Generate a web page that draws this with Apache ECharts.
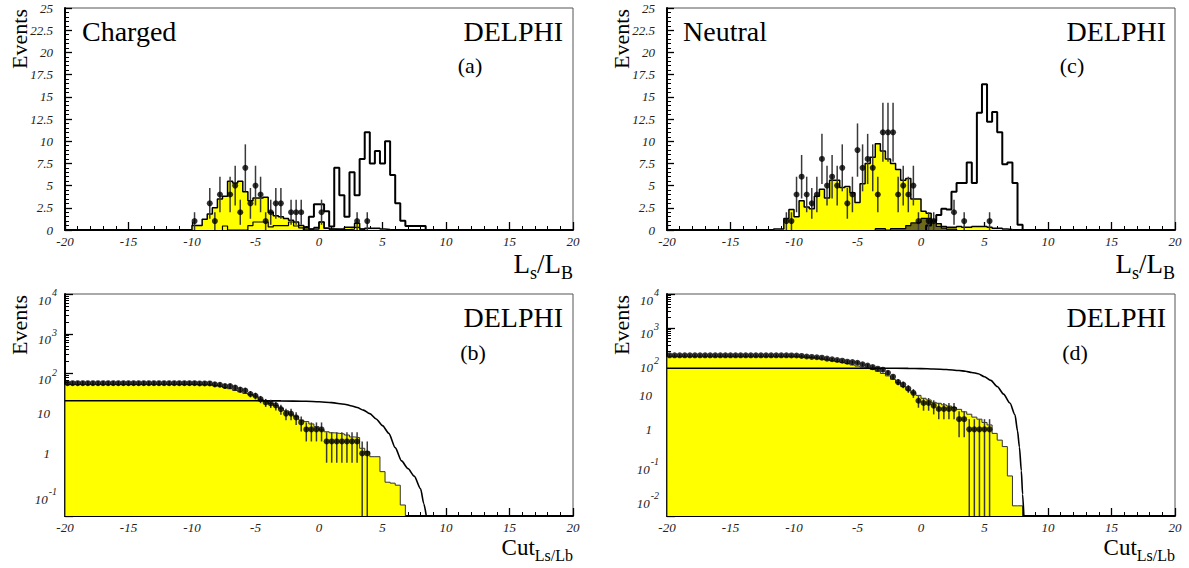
<!DOCTYPE html>
<html><head><meta charset="utf-8">
<script src="https://cdn.jsdelivr.net/npm/echarts@6/dist/echarts.min.js"></script>
<style>html,body{margin:0;padding:0;background:#fff}#c{width:1189px;height:568px}</style>
</head><body><div id="c"></div>
<script>
// ================= DATA =================
const binWidth = 0.4;

// ---- (a) Charged : L_s/L_B distribution ----
const aYellowStart = -10.0;   // left edge of first bin
const aYellow = [0.5, 0.5, 1.2, 1.8, 2.5, 3.5, 3.8, 5.5, 5.3, 5.5, 4.3, 3.3, 3.6, 3.6, 3.7, 2.0, 1.6, 1.5, 1.3, 1.1,
                 0.9, 0.5, 0.3, 0.1, 0.1, 0.9, 0.2, 0.1, 0.1, 0.1, 0.3, 0.3, 0.75, 0.1, 0.2, 0.2, 0.2, 0.1, 0.05];
const aInnerStart = -7.6;
const aInner = [0.45, 0, 0, 0, 0, 0.5, 0.9, 0.9, 0.9, 0.35, 0.5, 0.5, 0.5, 0.9, 0.45, 0.25, 0.1, 0.1, 0.3, 0.9,
                0.2, 0.1, 0.05, 0.05, 0.05, 0.1, 0.3, 0.1];
const aSignalStart = -1.2;
const aSignal = [0.3, 1.5, 2.9, 2.9, 2.1, 0.4, 7.0, 3.9, 1.5, 6.5, 3.9, 8.0, 11.0, 7.5, 8.9, 7.5, 10.0, 6.2, 3.0, 1.05,
                 0.45, 0.45, 0.45, 0.45];
const aDataX = [-9.8, -8.6, -8.2, -7.8, -7.0, -6.6, -6.2, -5.8, -5.4, -5.0, -4.6, -4.2, -3.8, -3.4, -3.0, -2.2, -1.8, -1.4, 0.2, 3.0, 3.8];
const aDataN = [1, 3, 1, 4, 4, 5, 2, 7, 3, 5, 4, 1, 2, 3, 3, 2, 2, 2, 2, 1, 1];

// ---- (c) Neutral : L_s/L_B distribution ----
const cYellowStart = -11.6;
const cYellow = [0.1, 0.1, 1.3, 2.3, 1.5, 3.3, 2.6, 2.4, 3.8, 4.6, 3.6, 5.6, 5.6, 4.8, 4.9, 4.2, 3.1, 5.2, 7.5, 8.2,
                 9.7, 8.9, 8.0, 7.5, 6.8, 5.6, 5.8, 3.5, 3.5, 2.1, 1.9, 1.1, 0.7, 0.4, 0.3, 0.3, 0.4, 0.3, 0.3, 0.4,
                 0.4, 0.4, 0.3, 0.2, 0.2, 0.1, 0.05];
const cInnerStart = -3.6;
const cInner = [0.15, 0.15, 0, 0.15, 0.15, 0.15, 0.5, 0.8, 0.85, 1.3, 1.3, 1.0, 0.4, 0.2, 0.1, 0.1];
const cSignalStart = 0.4;
const cSignal = [0.5, 1.0, 1.7, 2.4, 2.3, 4.3, 5.3, 5.3, 7.6, 5.3, 13.2, 16.4, 12.2, 13.3, 11.0, 7.4, 7.6, 5.3, 0.6];
const cDataX = [-10.6, -10.2, -9.8, -9.4, -9.0, -8.6, -8.2, -7.8, -7.4, -7.0, -6.6, -6.2, -5.8, -5.4, -5.0, -4.6,
                -4.2, -3.8, -3.4, -3.0, -2.6, -2.2, -1.8, -1.4, -1.0, -0.6, -0.2, 0.6, 1.0, 2.6, 3.4, 5.4];
const cDataN = [1, 1, 4, 6, 4, 3, 4, 8, 5, 6, 5, 7, 3, 4, 9, 7, 8, 7, 4, 11, 11, 11, 4, 5, 4, 5, 1, 1, 1, 2, 1, 1];

// ---- (b) Charged : events above cut ----
const cutStart = -19.8;      // first cut value, then one every binWidth
const bDataN = [58, 58, 58, 58, 58, 58, 58, 58, 58, 58, 58, 58, 58, 58, 58, 58, 58, 58, 58, 58, 58, 58, 58, 58, 58,
                58, 57, 57, 57, 54, 53, 49, 49, 45, 40, 38, 31, 28, 23, 19, 18, 16, 13, 10, 10,
                8, 6, 4, 4, 4, 4, 2, 2, 2, 2, 2, 2, 2, 1, 1];
const bYellowStart = -20.0;
const bYellow = [54, 54, 54, 54, 54, 54, 54, 54, 54, 54, 54, 54, 54, 54, 54, 54, 54, 54, 54, 54, 54, 54, 54, 54, 54,
                 54, 53, 53, 52, 50, 48, 45, 42, 38, 35, 32, 30, 27.5, 22.8, 20, 18, 16, 13.6, 11.8, 9.7,
                 8.4, 6.9, 6.3, 5.5, 4.7, 3.9, 3.5, 3.3, 3.2, 3.1, 2.9, 2.6, 2.5, 1.35, 1.1, 0.83, 0.83, 0.35, 0.19, 0.18,
                 0.16, 0.051];
const bSignalCut = [-20, -5, -3, -1, 0, 1, 2, 2.6, 3.0, 3.5, 4.0, 4.5, 5.0, 5.5, 6.0, 6.5, 7.0, 7.5, 8.0, 8.25, 8.45];
const bSignal    = [21, 21, 20.8, 20.4, 19.8, 18.8, 17.2, 15.5, 14.2, 12.2, 10.0, 7.3, 5.0, 3.2, 1.4, 0.65, 0.42, 0.27, 0.13, 0.055, 0];

// ---- (d) Neutral : events above cut ----
const dDataN = [154, 154, 154, 154, 154, 154, 154, 154, 154, 154, 154, 154, 154, 154, 154, 154, 154, 154, 154, 154,
                154, 154, 154, 154,
                153, 152, 148, 142, 138, 135, 131, 123, 118, 112, 107, 100, 97, 93, 84, 77, 69, 62, 58, 47,
                36, 25, 21, 16, 12, 7, 6, 6, 5, 4, 4, 4, 4, 2, 2, 1, 1, 1, 1, 1];
const dYellowStart = -20.0;
const dYellow = [140, 140, 140, 140, 140, 140, 140, 140, 140, 140, 140, 140, 140, 140, 140, 140, 140, 140, 140, 140,
                 140, 140, 140, 140, 140,
                 139, 137, 134, 130, 125, 119, 113, 107, 101, 95, 88, 80, 74, 69, 64, 59, 52, 45, 38, 30,
                 24, 18.3, 14.5, 12, 10.1, 8.3, 7.4, 6.3, 5.9, 5.3, 4.9, 4.4, 3.9, 3.3, 2.8, 2.3, 2.0, 1.6, 1.35, 0.76,
                 0.48, 0.31, 0.042, 0.0055, 0.0055];
const dSignalCut = [-20, -3, -1, 0, 1, 2, 3, 3.5, 4.0, 4.5, 5.0, 5.5, 6.0, 6.5, 7.0, 7.4, 7.6, 7.75, 7.9, 8.0, 8.1];
const dSignal    = [64, 64, 63.5, 62.5, 61, 59, 55, 52, 48, 44, 36, 28, 18.5, 11, 6, 2.7, 0.9, 0.3, 0.06, 0.012, 0];

// ================= CHART =================
const FONT = "'Liberation Serif', 'Times New Roman', serif";
const LOG_MIN_B = 0.027, LOG_MIN_D = 0.00275;
const r3 = v => Math.round(v * 1000) / 1000;

function stepData(start, values, floor) {
  const pts = [[r3(start), floor]];
  values.forEach((v, i) => pts.push([r3(start + i * binWidth), Math.max(v, floor)]));
  pts.push([r3(start + values.length * binWidth), floor]);
  return pts;
}
function hist(gi, data, fill, stroke, width, z) {
  const s = {type: 'line', xAxisIndex: gi, yAxisIndex: gi, data, step: 'end', symbol: 'none', showSymbol: false,
    lineStyle: {color: stroke, width}, z, silent: true};
  if (fill) s.areaStyle = {color: fill, opacity: 1, origin: 'start'};
  return s;
}
function curve(gi, xs, ys, floor) {
  return {type: 'line', xAxisIndex: gi, yAxisIndex: gi, data: xs.map((x, i) => [x, Math.max(ys[i], floor)]),
    symbol: 'none', showSymbol: false, smooth: 0.25, smoothMonotone: 'x',
    lineStyle: {color: '#000', width: 1.6}, z: 4, silent: true};
}
function errBars(gi, xs, ns, floor) {
  return {type: 'custom', xAxisIndex: gi, yAxisIndex: gi, z: 5, silent: true,
    data: xs.map((x, i) => [x, ns[i], Math.max(ns[i] - Math.sqrt(ns[i]), floor), ns[i] + Math.sqrt(ns[i])]),
    encode: {x: 0, y: 1},
    renderItem: (params, api) => {
      const p1 = api.coord([api.value(0), api.value(2)]);
      const p2 = api.coord([api.value(0), api.value(3)]);
      return {type: 'line', shape: {x1: p1[0], y1: p1[1], x2: p2[0], y2: p2[1]},
        style: {stroke: '#3a3a3a', lineWidth: 1.5}};
    }};
}
function points(gi, xs, ns) {
  return {type: 'scatter', xAxisIndex: gi, yAxisIndex: gi, data: xs.map((x, i) => [x, ns[i]]),
    symbol: 'circle', symbolSize: 6, itemStyle: {color: '#000'}, z: 6, silent: true};
}
const cutXs = n => Array.from({length: n}, (_, i) => r3(cutStart + i * binWidth));

function xAxisCfg(gi) {
  return {gridIndex: gi, type: 'value', min: -20, max: 20, interval: 5,
    axisLine: {show: true, onZero: false, lineStyle: {color: '#000', width: 2}},
    axisTick: {show: true, inside: true, length: 8, lineStyle: {color: '#000', width: 1.3}},
    minorTick: {show: true, splitNumber: 5, length: 4, lineStyle: {color: '#000', width: 1}},
    splitLine: {show: false},
    axisLabel: {color: '#222', fontFamily: FONT, fontStyle: 'italic', fontSize: 13, margin: 5}};
}
function linYCfg(gi) {
  return {gridIndex: gi, type: 'value', min: 0, max: 25, interval: 2.5,
    axisLine: {show: true, onZero: false, lineStyle: {color: '#000', width: 2}},
    axisTick: {show: true, inside: true, length: 7, lineStyle: {color: '#000', width: 1.3}},
    minorTick: {show: true, splitNumber: 5, length: 4, lineStyle: {color: '#000', width: 1}},
    splitLine: {show: false},
    axisLabel: {color: '#222', fontFamily: FONT, fontStyle: 'italic', fontSize: 13, margin: 12}};
}
function logLabel(v) {
  const l = Math.log10(v), e = Math.round(l);
  if (Math.abs(l - e) > 1e-3) return '';
  if (e === 0) return '{c|1}{p|}';
  if (e === 1) return '{c|10}{p|}';
  return '{b|10}{u|' + e + '}';
}
function logYCfg(gi, min) {
  return {gridIndex: gi, type: 'log', logBase: 10, min, max: 10000,
    axisLine: {show: true, onZero: false, lineStyle: {color: '#000', width: 2}},
    axisTick: {show: true, inside: true, length: 8, lineStyle: {color: '#000', width: 1.3}},
    minorTick: {show: true, splitNumber: 9, length: 4, lineStyle: {color: '#000', width: 1}},
    splitLine: {show: false},
    axisLabel: {color: '#222', margin: 8, formatter: logLabel,
      rich: {
        b: {fontFamily: FONT, fontStyle: 'italic', fontSize: 13, lineHeight: 13, padding: [6, 0, 0, 0], verticalAlign: 'top', color: '#222'},
        c: {fontFamily: FONT, fontStyle: 'italic', fontSize: 13, lineHeight: 13, color: '#222'},
        u: {fontFamily: FONT, fontStyle: 'italic', fontSize: 10, lineHeight: 10, padding: [0, 0, 0, 1], verticalAlign: 'top', color: '#222'},
        p: {width: 7}
      }}};
}

const gridBase = {show: true, borderColor: '#555', borderWidth: 1, backgroundColor: 'transparent'};
const grids = [
  Object.assign({left: 65, top: 8, width: 508, height: 222}, gridBase),
  Object.assign({left: 667, top: 8, width: 508, height: 222}, gridBase),
  Object.assign({left: 65, top: 294, width: 508, height: 222}, gridBase),
  Object.assign({left: 667, top: 294, width: 508, height: 222}, gridBase)
];

const series = [
  // (a)
  hist(0, stepData(aYellowStart, aYellow, 0), '#ffff00', '#000', 1.5, 2),
  hist(0, stepData(aInnerStart, aInner, 0), null, '#000', 1.2, 3),
  hist(0, stepData(aSignalStart, aSignal, 0), null, '#000', 2, 4),
  errBars(0, aDataX, aDataN, 0),
  points(0, aDataX, aDataN),
  // (c)
  hist(1, stepData(cYellowStart, cYellow, 0), '#ffff00', '#000', 1.5, 2),
  hist(1, stepData(cInnerStart, cInner, 0), '#6e6a1a', '#000', 1.2, 3),
  hist(1, stepData(cSignalStart, cSignal, 0), null, '#000', 2, 4),
  errBars(1, cDataX, cDataN, 0),
  points(1, cDataX, cDataN),
  // (b)
  hist(2, stepData(bYellowStart, bYellow, LOG_MIN_B), '#ffff00', '#333', 1, 2),
  curve(2, bSignalCut, bSignal, LOG_MIN_B),
  errBars(2, cutXs(bDataN.length), bDataN, LOG_MIN_B),
  points(2, cutXs(bDataN.length), bDataN),
  // (d)
  hist(3, stepData(dYellowStart, dYellow, LOG_MIN_D), '#ffff00', '#333', 1, 2),
  curve(3, dSignalCut, dSignal, LOG_MIN_D),
  errBars(3, cutXs(dDataN.length), dDataN, LOG_MIN_D),
  points(3, cutXs(dDataN.length), dDataN)
];

function txt(text, x, y, size, align, vAlign) {
  return {type: 'text', x, y, silent: true, z: 100,
    style: {text, fontFamily: FONT, fontSize: size, fill: '#000', textAlign: align, textVerticalAlign: vAlign}};
}
function vtxt(text, x, yTop) {
  return {type: 'text', x, y: yTop, rotation: Math.PI / 2, silent: true, z: 100,
    style: {text, fontFamily: FONT, fontSize: 22, fill: '#000', textAlign: 'right', textVerticalAlign: 'middle'}};
}
function subTitle(main, sub, xRight, yTop, mSize, sSize, mLine, drop) {
  return {type: 'text', x: xRight, y: yTop, silent: true, z: 100,
    style: {text: '{m|' + main + '}{s|' + sub + '}', textAlign: 'right', textVerticalAlign: 'top',
      rich: {m: {fontFamily: FONT, fontSize: mSize, lineHeight: mLine, verticalAlign: 'top', color: '#000'},
             s: {fontFamily: FONT, fontSize: sSize, lineHeight: sSize, padding: [drop, 0, 0, 0], verticalAlign: 'top', color: '#000'}}}};
}
function lsLb(xRight, yTop) {
  return {type: 'text', x: xRight, y: yTop, silent: true, z: 100,
    style: {text: '{m|L}{s|s}{m|/L}{s|B}', textAlign: 'right', textVerticalAlign: 'top',
      rich: {m: {fontFamily: FONT, fontSize: 27, lineHeight: 20, verticalAlign: 'top', color: '#000'},
             s: {fontFamily: FONT, fontSize: 18, lineHeight: 16, padding: [14, 0, 0, 0], verticalAlign: 'top', color: '#000'}}}};
}

const graphic = [
  txt('Charged', 82, 31, 28, 'left', 'middle'),
  txt('DELPHI', 563, 31, 28, 'right', 'middle'),
  txt('(a)', 470, 65, 22, 'center', 'middle'),
  txt('Neutral', 683, 31, 28, 'left', 'middle'),
  txt('DELPHI', 1166, 31, 28, 'right', 'middle'),
  txt('(c)', 1072, 65, 22, 'center', 'middle'),
  txt('DELPHI', 563, 317, 28, 'right', 'middle'),
  txt('(b)', 473, 352, 22, 'center', 'middle'),
  txt('DELPHI', 1166, 317, 28, 'right', 'middle'),
  txt('(d)', 1075, 352, 22, 'center', 'middle'),
  vtxt('Events', 19, 9),
  vtxt('Events', 621, 9),
  vtxt('Events', 19, 295),
  vtxt('Events', 621, 295),
  lsLb(573, 250),
  lsLb(1175, 250),
  subTitle('Cut', 'Ls/Lb', 573, 536, 23, 16, 18, 11),
  subTitle('Cut', 'Ls/Lb', 1175, 536, 23, 16, 18, 11)
];

const chart = echarts.init(document.getElementById('c'), null, {renderer: 'svg', width: 1189, height: 568});
chart.setOption({
  backgroundColor: '#fff',
  animation: false,
  grid: grids,
  xAxis: [xAxisCfg(0), xAxisCfg(1), xAxisCfg(2), xAxisCfg(3)],
  yAxis: [linYCfg(0), linYCfg(1), logYCfg(2, LOG_MIN_B), logYCfg(3, LOG_MIN_D)],
  series,
  graphic
});
</script></body></html>
